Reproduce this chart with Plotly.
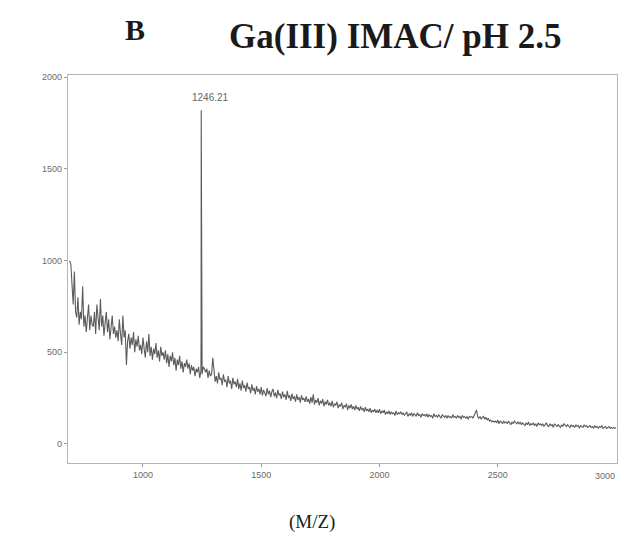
import plotly.graph_objects as go

# Sampling grid of the MALDI spectrum (m/z), 5-unit steps from 690
mz_start, mz_step = 690, 5

# Ion intensity at each m/z of the grid (one row per 100 m/z)
intensity = [
    1000, 980, 870, 760, 940, 720, 690, 800, 650, 720, 680, 860, 640, 700, 610, 690, 760, 620, 700, 650,
    640, 720, 600, 760, 680, 620, 790, 640, 700, 590, 660, 720, 610, 680, 570, 650, 700, 600, 640, 580,
    620, 560, 680, 600, 540, 700, 580, 620, 430, 560, 600, 520, 580, 540, 610, 500, 570, 530, 590, 510,
    540, 490, 580, 520, 470, 560, 500, 600, 480, 530, 460, 520, 490, 550, 470, 510, 450, 530, 480, 500,
    460, 510, 440, 490, 420, 480, 450, 500, 430, 470, 400, 460, 430, 480, 410, 450, 390, 440, 420, 460,
    410, 440, 380, 430, 400, 420, 370, 410, 390, 420, 360, 400, 380, 420, 410, 390, 410, 360, 400, 370,
    380, 470, 400, 340, 370, 330, 390, 350, 360, 320, 380, 340, 350, 310, 370, 330, 345, 300, 360, 325,
    340, 310, 355, 300, 330, 290, 345, 305, 320, 285, 335, 300, 310, 275, 325, 290, 305, 270, 315, 285,
    300, 270, 310, 265, 295, 280, 260, 305, 270, 290, 255, 285, 300, 260, 280, 250, 295, 265, 275, 245,
    285, 255, 270, 240, 290, 250, 265, 235, 275, 245, 260, 230, 270, 240, 255, 225, 265, 240, 250, 230,
    260, 230, 245, 220, 255, 225, 270, 215, 240, 225, 250, 210, 235, 220, 245, 205, 230, 215, 240, 210,
    225, 205, 235, 200, 220, 210, 230, 195, 215, 205, 225, 190, 210, 200, 220, 185, 210, 195, 215, 190,
    205, 185, 210, 190, 200, 180, 205, 185, 195, 175, 200, 180, 190, 175, 195, 170, 185, 175, 190, 170,
    185, 170, 190, 165, 180, 170, 185, 160, 175, 165, 180, 160, 175, 165, 170, 155, 180, 160, 170, 165,
    175, 160, 170, 155, 165, 175, 150, 165, 155, 170, 150, 165, 160, 150, 170, 155, 160, 145, 165, 155,
    160, 150, 165, 145, 160, 150, 155, 140, 165, 150, 155, 145, 160, 150, 140, 160, 150, 145, 155, 140,
    155, 145, 150, 140, 160, 145, 150, 140, 155, 145, 150, 135, 155, 145, 150, 140, 150, 135, 150, 145,
    150, 140, 155, 170, 185, 150, 140, 150, 135, 145, 150, 135, 145, 130, 140, 125, 130, 120, 125, 120,
    125, 115, 130, 110, 125, 120, 110, 125, 115, 120, 110, 125, 115, 105, 120, 110, 125, 115, 110, 120,
    110, 120, 105, 115, 110, 100, 115, 105, 120, 100, 110, 105, 115, 100, 110, 95, 115, 105, 110, 100,
    110, 95, 105, 115, 100, 95, 110, 100, 105, 90, 110, 100, 95, 105, 100, 90, 105, 95, 110, 100,
    95, 105, 100, 90, 105, 95, 100, 90, 105, 95, 100, 85, 100, 95, 90, 105, 95, 100, 90, 95,
    100, 90, 95, 85, 100, 90, 95, 85, 95, 90, 100, 85, 90, 95, 85, 90, 95, 85, 90, 85,
    90, 85, 88,
]
mz = [mz_start + mz_step * i for i in range(len(intensity))]

# The labelled phosphopeptide ion
peak_mz = [1245.6, 1246.21, 1246.8]
peak_intensity = [600, 1820, 600]
peak_label = "1246.21"

x_ticks = [1000, 1500, 2000, 2500, 3000]
y_ticks = [0, 500, 1000, 1500, 2000]

points = sorted(zip(mz + peak_mz, intensity + peak_intensity))
xs = [p[0] for p in points]
ys = [p[1] for p in points]

fig = go.Figure()
fig.add_trace(go.Scatter(
    x=xs, y=ys, mode="lines",
    line=dict(color="#5c5c5c", width=1.1),
    hoverinfo="skip", showlegend=False,
))

tick_font = dict(family="Liberation Sans", size=9, color="#6a6a6a")

fig.add_annotation(
    x=peak_mz[1], y=peak_intensity[1], text=peak_label,
    showarrow=False, xanchor="left", yanchor="bottom",
    xshift=-11, yshift=5,
    font=dict(family="Liberation Sans", size=10, color="#666666"),
)

# Last x tick label, kept inside the right edge of the page
fig.add_annotation(
    x=1, y=0, xref="paper", yref="paper", text=str(x_ticks[-1]),
    showarrow=False, xanchor="right", yanchor="top", yshift=-6,
    font=tick_font,
)

serif = "Liberation Serif"
fig.add_annotation(
    xref="paper", yref="paper", x=0.122, y=1.116, xanchor="center", yanchor="middle",
    text="<b>B</b>", showarrow=False,
    font=dict(family=serif, size=30, color="#1a1a1a"),
)
fig.add_annotation(
    xref="paper", yref="paper", x=0.596, y=1.1, xanchor="center", yanchor="middle",
    text="<b>Ga(III) IMAC/ pH 2.5</b>", showarrow=False,
    font=dict(family=serif, size=35, color="#1a1a1a"),
)
fig.add_annotation(
    xref="paper", yref="paper", x=0.444, y=-0.153, xanchor="center", yanchor="middle",
    text="(M/Z)", showarrow=False,
    font=dict(family=serif, size=19, color="#1a1a1a"),
)

axis_style = dict(
    showgrid=False, zeroline=False, showline=True, mirror=True,
    linecolor="#b5b5b5", linewidth=1.3,
    ticks="outside", ticklen=3, tickcolor="#999999",
    tickfont=tick_font,
)

fig.update_xaxes(range=[683, 3004], tickvals=x_ticks[:-1], **axis_style)
fig.update_yaxes(range=[-104, 2012], tickvals=y_ticks, **axis_style)

fig.update_layout(
    width=618, height=535,
    margin=dict(l=68, r=1, t=75, b=72),
    paper_bgcolor="white", plot_bgcolor="white",
)

fig.write_html("out.html")
